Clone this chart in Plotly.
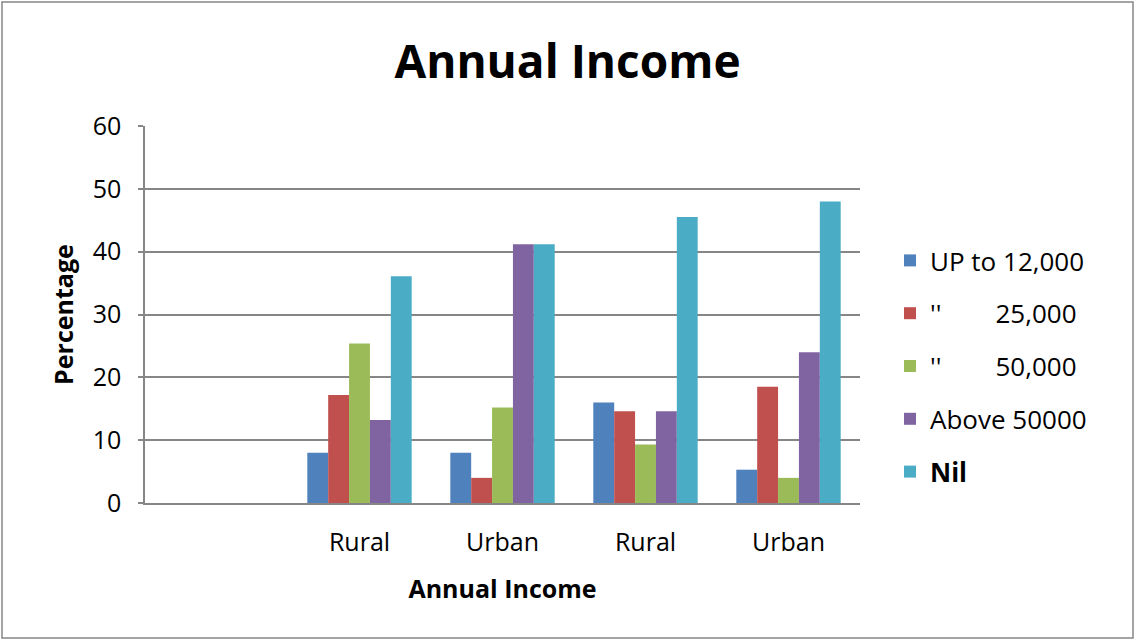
import plotly.graph_objects as go

# Category slots: the first slot is left blank on the axis
slots = [0, 1, 2, 3, 4]
slot_labels = ["", "Rural", "Urban", "Rural", "Urban"]

series_names = [
    "UP to 12,000",
    "''\u00a0\u00a0\u00a0\u00a0\u00a0\u00a0\u00a0\u00a025,000",
    "''\u00a0\u00a0\u00a0\u00a0\u00a0\u00a0\u00a0\u00a050,000",
    "Above 50000",
    "<b>Nil</b>",
]
up_to_12000 = [None, 8.0, 8.0, 16.0, 5.3]
up_to_25000 = [None, 17.2, 4.0, 14.6, 18.5]
up_to_50000 = [None, 25.4, 15.2, 9.3, 4.0]
above_50000 = [None, 13.2, 41.2, 14.6, 24.0]
nil = [None, 36.1, 41.2, 45.5, 48.0]

series_values = [up_to_12000, up_to_25000, up_to_50000, above_50000, nil]
colors = ["#4F81BD", "#C0504D", "#9BBB59", "#8064A2", "#4BACC6"]

FONT = "'Open Sans', Calibri, Lato, sans-serif"

fig = go.Figure()
for i, (name, vals, col) in enumerate(zip(series_names, series_values, colors)):
    fig.add_trace(go.Bar(
        x=slots, y=vals, name=name, marker=dict(color=col, line=dict(width=0)),
        legendgroup=f"g{i}",
    ))

fig.update_layout(
    width=1135, height=640,
    margin=dict(l=145, r=275, t=126, b=137),
    paper_bgcolor="white", plot_bgcolor="white",
    barmode="group", bargap=0.27, bargroupgap=0,
    font=dict(family=FONT, color="black"),
    title=dict(text="<b>Annual Income</b>", x=0.5, xref="container", xanchor="center",
               y=1 - 62 / 640, yref="container", yanchor="middle",
               font=dict(size=46, family=FONT, color="black")),
    legend=dict(x=(890 - 145) / 715, y=(503 - 237) / 377, xanchor="left", yanchor="top",
                font=dict(size=26, family=FONT), tracegroupgap=16,
                traceorder="grouped", bgcolor="rgba(0,0,0,0)"),
    showlegend=True,
)

fig.update_xaxes(
    range=[-0.5, 4.5], tickmode="array", tickvals=slots, ticktext=slot_labels,
    showgrid=False, zeroline=False, showline=True, linecolor="#868686", linewidth=1.5,
    ticks="", tickfont=dict(size=25, family=FONT), ticklabelstandoff=16,
    title=dict(text="<b>Annual Income</b>", font=dict(size=25, family=FONT), standoff=24),
)
fig.update_yaxes(
    range=[0, 60], dtick=10, showgrid=True, gridcolor="#868686", gridwidth=1.5,
    zeroline=False, showline=True, linecolor="#868686", linewidth=1.5,
    ticks="outside", ticklen=5, tickcolor="#868686", tickwidth=1.5,
    tickfont=dict(size=25, family=FONT), ticklabelstandoff=12,
    title=dict(text="<b>Percentage</b>", font=dict(size=25, family=FONT), standoff=12),
)

# Outer frame around the whole chart
fig.add_shape(type="rect", xref="paper", yref="paper",
              x0=(2 - 145) / 715, x1=(1133 - 145) / 715,
              y0=(503 - 638) / 377, y1=(503 - 2) / 377,
              line=dict(color="#868686", width=1.5), fillcolor="rgba(0,0,0,0)")

fig.write_html("out.html")
